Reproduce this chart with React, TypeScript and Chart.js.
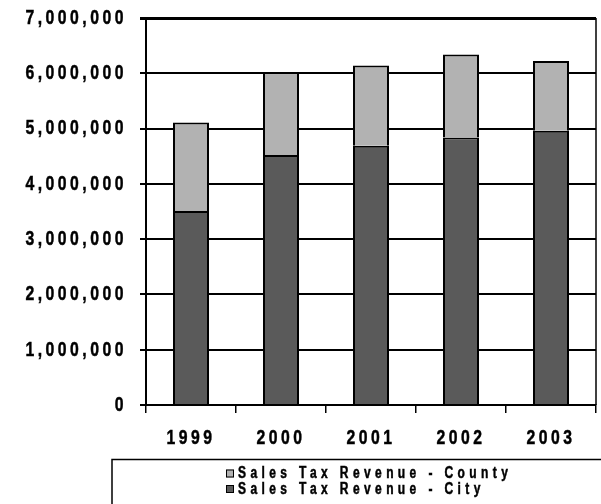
import React, { useEffect, useRef } from "react";
import { Chart, registerables } from "chart.js";

Chart.register(...registerables);

const years = ["1999", "2000", "2001", "2002", "2003"];
const cityRevenue = [3510000, 4520000, 4690000, 4840000, 4960000];
const countyRevenue = [1600000, 1500000, 1450000, 1500000, 1260000];
const cityLabel = "Sales Tax Revenue - City";
const countyLabel = "Sales Tax Revenue - County";
const yMin = 0;
const yMax = 7000000;
const yStep = 1000000;

const FONT = "'Liberation Sans', Arial, sans-serif";
const NARROW = 0.75; // horizontal squeeze to mimic a narrow bold face

function squeezeText(ctx: any) {
  if (ctx.__origFillText) return;
  const orig = ctx.fillText;
  const origStroke = ctx.strokeText;
  ctx.__origFillText = orig;
  ctx.fillText = function (text: string, x: number, y: number) {
    this.save();
    this.translate(x, y);
    this.scale(NARROW, 1);
    orig.call(this, text, 0, 0);
    this.strokeStyle = this.fillStyle;
    this.lineWidth = 0.5;
    origStroke.call(this, text, 0, 0);
    this.restore();
  };
}

function unsqueezeText(ctx: any) {
  if (ctx.__origFillText) {
    delete ctx.fillText;
    delete ctx.__origFillText;
  }
}

const spacingPlugin = {
  id: "spacing",
  beforeDraw(chart: any) {
    const ctx = chart.ctx as any;
    squeezeText(ctx);
    ctx.letterSpacing = (3.5 / NARROW).toFixed(2) + "px";
  },
  afterDraw(chart: any) {
    const ctx = chart.ctx as any;
    const area = chart.chartArea;
    ctx.save();
    // right edge of plot area
    ctx.strokeStyle = "#000";
    ctx.lineWidth = 1.5;
    ctx.beginPath();
    ctx.moveTo(area.right, area.top);
    ctx.lineTo(area.right, area.bottom);
    ctx.stroke();

    // legend box
    const boxLeft = area.left - 34;
    const boxTop = area.bottom + 54.5;
    ctx.lineWidth = 1.5;
    ctx.strokeRect(boxLeft, boxTop, chart.width, 100);

    ctx.letterSpacing = (4.4 / NARROW).toFixed(2) + "px";
    ctx.font = `bold 16px ${FONT}`;
    ctx.textBaseline = "middle";
    ctx.textAlign = "left";
    const items = chart.data.datasets.slice().reverse();
    items.forEach((ds: any, i: number) => {
      const y = boxTop + 14 + i * 15.5;
      const x = area.left + 80;
      ctx.fillStyle = ds.backgroundColor;
      ctx.fillRect(x, y - 4, 8, 8);
      ctx.lineWidth = 1;
      ctx.strokeStyle = "#000";
      ctx.strokeRect(x + 0.5, y - 3.5, 7, 7);
      ctx.fillStyle = "#000";
      ctx.fillText(ds.label, x + 12, y + 0.5);
    });
    ctx.letterSpacing = "0px";
    ctx.restore();
    unsqueezeText(ctx);
  },
};

export default function App() {
  const ref = useRef<HTMLCanvasElement>(null);
  useEffect(() => {
    if (!ref.current) return;
    const chart = new Chart(ref.current, {
      type: "bar",
      data: {
        labels: years,
        datasets: [
          {
            label: cityLabel,
            data: cityRevenue,
            backgroundColor: "#5a5a5a",
            borderColor: "#000",
            borderWidth: 2,
          },
          {
            label: countyLabel,
            data: countyRevenue,
            backgroundColor: "#b2b2b2",
            borderColor: "#000",
            borderWidth: 2,
          },
        ],
      },
      options: {
        responsive: false,
        animation: false,
        events: [],
        layout: { padding: { top: 18, right: 5, bottom: 45, left: 0 } },
        datasets: { bar: { categoryPercentage: 1, barPercentage: 0.4 } },
        plugins: { legend: { display: false }, tooltip: { enabled: false } },
        scales: {
          x: {
            stacked: true,
            grid: {
              display: true,
              drawOnChartArea: false,
              drawTicks: true,
              tickLength: 8,
              color: "#000",
              lineWidth: 1.5,
              offset: true,
            },
            border: { display: true, color: "#000", width: 2 },
            ticks: {
              color: "#000",
              font: { family: FONT, size: 21, weight: "bold" },
              padding: 13,
              maxRotation: 0,
              minRotation: 0,
            },
            afterFit(scale: any) {
              scale.height = 54;
              scale.paddingLeft = 0;
              scale.paddingRight = 0;
            },
          },
          y: {
            stacked: true,
            min: yMin,
            max: yMax,
            grid: {
              color: "#000",
              lineWidth: (c: any) => (c.tick && c.tick.value === yMax ? 3 : 2),
              tickLength: 6,
              drawTicks: true,
            },
            border: { display: true, color: "#000", width: 2 },
            ticks: {
              stepSize: yStep,
              color: "#000",
              font: { family: FONT, size: 21, weight: "bold" },
              padding: 13,
              callback: (v: any) => Number(v).toLocaleString("en-US"),
            },
            afterFit(scale: any) {
              scale.width = 146;
              scale.paddingTop = 0;
              scale.paddingBottom = 0;
            },
          },
        },
      },
      plugins: [spacingPlugin],
    });
    return () => chart.destroy();
  }, []);
  return (
    <div style={{ position: "absolute", left: 0, top: 0, width: 601, height: 504, background: "#fff" }}>
      <canvas ref={ref} width={601} height={504} style={{ display: "block" }} />
    </div>
  );
}
